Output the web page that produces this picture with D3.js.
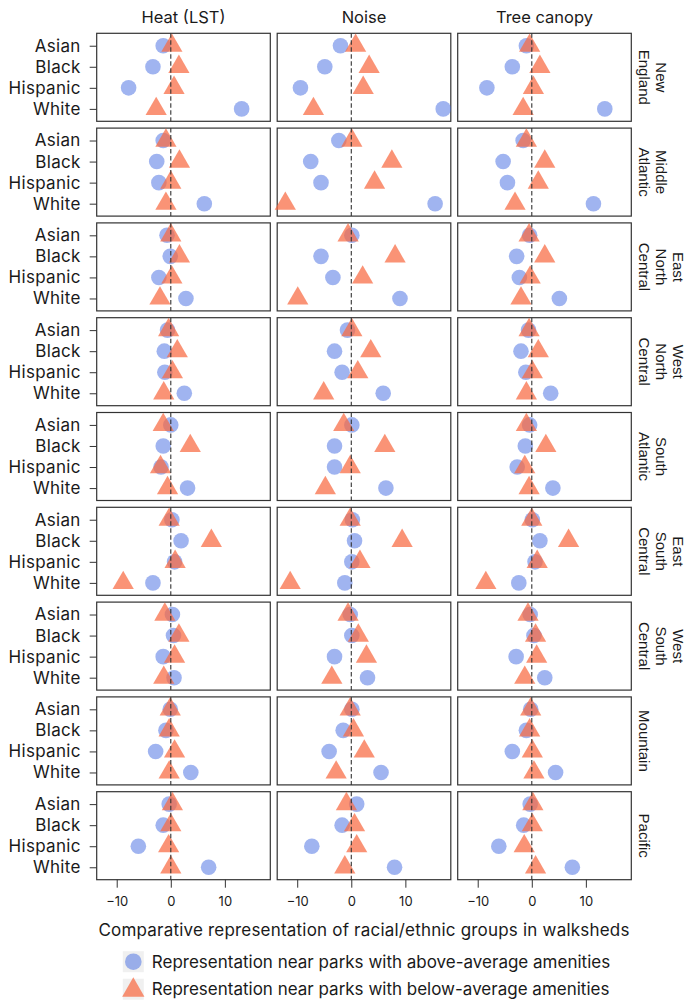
<!DOCTYPE html>
<html>
<head>
<meta charset="utf-8">
<script src="https://cdn.jsdelivr.net/npm/d3@7"></script>
<style>
  body { margin: 0; background: #fff; }
  text { font-family: Inter, "Noto Sans", sans-serif; fill: #1a1a1a; }
  .strip text { font-family: "Liberation Sans", Arial, sans-serif; }
</style>
</head>
<body>
<svg width="686" height="1003"></svg>
<script>
var svg = d3.select("svg");

// panels: columns = metric, rows = census division
const metrics = ["Heat (LST)", "Noise", "Tree canopy"];
const regions = ["New England", "Middle Atlantic", "East North Central", "West North Central",
  "South Atlantic", "East South Central", "West South Central", "Mountain", "Pacific"];
const groups = ["Asian", "Black", "Hispanic", "White"];
const xTicks = [-10, 0, 10];

// values per region, order Asian, Black, Hispanic, White
const heatAbove = [[-1.4, -3.3, -7.8, 13.1], [-1.4, -2.6, -2.2, 6.2], [-0.7, -0.1, -2.2, 2.8],
  [-0.6, -1.2, -1.1, 2.5], [0, -1.4, -1.8, 3.1], [0.2, 1.9, 0.7, -3.3], [0.3, 0.5, -1.4, 0.6],
  [-0.1, -0.9, -2.8, 3.7], [-0.3, -1.4, -6.0, 7.0]];
const heatBelow = [[0.2, 1.5, 0.6, -2.7], [-0.9, 1.6, 0, -0.9], [0, 1.6, 0.2, -2.0],
  [-0.4, 1.2, 0.3, -1.3], [-1.4, 3.6, -1.9, -0.6], [-0.3, 7.5, 0.8, -8.8], [-1.1, 1.5, 0.7, -1.3],
  [-0.1, -0.3, 0.7, -0.3], [0.3, 0, -0.4, 0]];
const noiseAbove = [[-2.0, -4.9, -9.4, 17.0], [-2.3, -7.5, -5.6, 15.5], [0.1, -5.6, -3.4, 9.0],
  [-0.7, -3.1, -1.7, 5.9], [0.1, -3.1, -3.1, 6.4], [0.2, 0.6, 0.1, -1.2], [-0.2, 0.1, -3.1, 3.0],
  [0.1, -1.5, -4.1, 5.5], [1.0, -1.7, -7.3, 8.0]];
const noiseBelow = [[0.8, 3.3, 2.2, -7.0], [0.1, 7.5, 4.3, -12.2], [-0.6, 8.1, 2.1, -9.9],
  [0.1, 3.6, 1.2, -5.1], [-1.4, 6.2, -0.2, -4.8], [-0.2, 9.4, 1.6, -11.3], [-0.6, 1.3, 2.8, -3.6],
  [-0.2, 0.4, 2.4, -2.8], [-0.9, 0.6, 1.0, -1.2]];
const treeAbove = [[-1.0, -3.6, -8.3, 13.5], [-1.6, -5.3, -4.5, 11.4], [-0.4, -2.8, -2.3, 5.1],
  [-0.6, -2.0, -1.1, 3.5], [-0.4, -1.2, -2.7, 3.9], [0.1, 1.5, 0.6, -2.4], [-0.3, 0.4, -2.9, 2.4],
  [-0.2, -1.0, -3.6, 4.4], [-0.3, -1.5, -6.1, 7.5]];
const treeBelow = [[-0.4, 1.5, 0.3, -1.6], [-1.0, 2.4, 1.2, -3.1], [-0.5, 2.4, -0.3, -2.0],
  [-0.5, 1.2, 0.1, -1.0], [-1.0, 2.6, -1.3, -0.5], [0, 6.8, 1.0, -8.5], [-0.7, 0.7, 0.9, -1.3],
  [-0.2, -0.4, 0.1, 0.4], [0.2, 0.1, -1.4, 0.7]];

const above = [heatAbove, noiseAbove, treeAbove];
const below = [heatBelow, noiseBelow, treeBelow];

const legendLabels = ["Representation near parks with above-average amenities",
  "Representation near parks with below-average amenities"];

// layout
const padLeft = 96.7, padTop = 33.3, panelW = 173.6, panelH = 88, colStep = 180.5, rowStep = 94.8;
const blue = "royalblue", blueOp = 0.5, red = "rgb(248,105,65)", redOp = 0.72;

var x = d3.scaleLinear().domain([-13.7, 18.4]).range([0, panelW]);
var y = d3.scalePoint().domain(groups).range([0, panelH]).padding(0.59);

var tri = d3.symbol().type(d3.symbolTriangle).size(195)();

metrics.forEach(function(m, c) {
  var cx = padLeft + c * colStep;

  svg.append("text")
    .attr("x", cx + panelW / 2)
    .attr("y", 23)
    .attr("text-anchor", "middle")
    .attr("font-size", 16.5)
    .text(m);

  regions.forEach(function(r, i) {
    var g = svg.append("g")
      .attr("transform", "translate(" + cx + "," + (padTop + i * rowStep) + ")");

    g.append("rect")
      .attr("width", panelW)
      .attr("height", panelH)
      .attr("fill", "none")
      .attr("stroke", "#333")
      .attr("stroke-width", 1.2);

    g.selectAll("circle")
      .data(above[c][i])
      .enter().append("circle")
      .attr("cx", function(d) { return x(d); })
      .attr("cy", function(d, k) { return y(groups[k]); })
      .attr("r", 7.8)
      .attr("fill", blue)
      .attr("fill-opacity", blueOp);

    g.selectAll("path.tri")
      .data(below[c][i])
      .enter().append("path")
      .attr("class", "tri")
      .attr("d", tri)
      .attr("transform", function(d, k) { return "translate(" + x(d) + "," + y(groups[k]) + ")"; })
      .attr("fill", red)
      .attr("fill-opacity", redOp);

    g.append("line")
      .attr("x1", x(0)).attr("x2", x(0))
      .attr("y1", 0).attr("y2", panelH)
      .attr("stroke", "#333")
      .attr("stroke-width", 1.1)
      .attr("stroke-dasharray", "4.5,2.5");

    if (c == 0) {
      var ya = g.append("g").call(d3.axisLeft(y).tickSize(7).tickPadding(9));
      ya.select(".domain").remove();
      ya.selectAll("line").attr("stroke", "#333");
      ya.selectAll("text").attr("font-size", 17).attr("letter-spacing", 0.3)
        .attr("font-family", null).attr("fill", "#1a1a1a");
    }

    if (i == regions.length - 1) {
      var xa = g.append("g")
        .attr("transform", "translate(0," + panelH + ")")
        .call(d3.axisBottom(x).tickValues(xTicks).tickSize(8).tickPadding(9));
      xa.select(".domain").remove();
      xa.selectAll("line").attr("stroke", "#333");
      xa.selectAll("text").attr("font-size", 13).attr("font-family", null).attr("fill", "#1a1a1a");
    }

    if (c == metrics.length - 1) {
      var lines = r.split(" ");
      var st = svg.append("g")
        .attr("class", "strip")
        .attr("transform", "translate(" + (cx + panelW) + "," + (padTop + i * rowStep + panelH / 2) + ") rotate(90)");
      lines.forEach(function(t, j) {
        st.append("text")
          .attr("x", 0)
          .attr("y", -(13 + (lines.length - 1 - j) * 16.8))
          .attr("dy", "0.35em")
          .attr("text-anchor", "middle")
          .attr("font-size", 15)
          .text(t);
      });
    }
  });
});

// axis title
svg.append("text")
  .attr("x", padLeft + (colStep * 2 + panelW) / 2)
  .attr("y", 936)
  .attr("text-anchor", "middle")
  .attr("font-size", 17)
  .attr("letter-spacing", 0.2)
  .text("Comparative representation of racial/ethnic groups in walksheds");

// legend
var lg = svg.append("g").attr("transform", "translate(133.3,961.7)");
legendLabels.forEach(function(t, k) {
  var row = lg.append("g").attr("transform", "translate(0," + k * 27.5 + ")");
  row.append("rect")
    .attr("x", -10.5).attr("y", -10.5)
    .attr("width", 21).attr("height", 21)
    .attr("fill", "#f0f0f0");
  if (k == 0) {
    row.append("circle").attr("r", 8.3).attr("fill", blue).attr("fill-opacity", blueOp);
  } else {
    row.append("path")
      .attr("d", d3.symbol().type(d3.symbolTriangle).size(215)())
      .attr("transform", "translate(0,1)")
      .attr("fill", red).attr("fill-opacity", redOp);
  }
  row.append("text")
    .attr("x", 18.5)
    .attr("y", 0)
    .attr("dy", "0.35em")
    .attr("font-size", 17)
    .text(t);
});
</script>
</body>
</html>
